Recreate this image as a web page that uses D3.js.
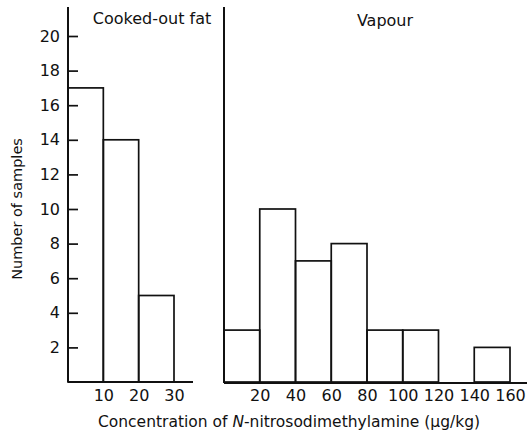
<!DOCTYPE html>
<html>
<head>
<meta charset="utf-8">
<script src="https://cdn.jsdelivr.net/npm/d3@7/dist/d3.min.js"></script>
<style>
  html, body { margin: 0; padding: 0; background: #fff; }
  svg { display: block; }
  text { font-family: "DejaVu Sans", sans-serif; fill: #111; }
</style>
</head>
<body>
<svg id="chart" width="527" height="436"></svg>
<script>
// Histogram bins: [lower, upper] concentration (µg/kg) and sample counts
const fatBins = [[0, 10], [10, 20], [20, 30]];
const fatCounts = [17, 14, 5];
const vapourBins = [[0, 20], [20, 40], [40, 60], [60, 80], [80, 100], [100, 120], [120, 140], [140, 160]];
const vapourCounts = [3, 10, 7, 8, 3, 3, 0, 2];
const yTicks = [2, 4, 6, 8, 10, 12, 14, 16, 18, 20];
const fatTicks = [10, 20, 30];
const vapourTicks = [20, 40, 60, 80, 100, 120, 140, 160];
const panelTitles = ["Cooked-out fat", "Vapour"];

const svg = d3.select("#chart");
const ink = "#111";

const y = d3.scaleLinear().domain([0, 20]).range([382, 36]);
const xFat = d3.scaleLinear().domain([0, 30]).range([68, 174]);
const xVap = d3.scaleLinear().domain([0, 160]).range([224, 510]);
const axisTop = 7;

// Frame lines: left axis, divider / vapour axis, two baselines
const frame = svg.append("g").attr("stroke", ink).attr("stroke-width", 2).attr("fill", "none");
frame.append("line").attr("x1", xFat(0)).attr("x2", xFat(0)).attr("y1", axisTop).attr("y2", y(0));
frame.append("line").attr("x1", xFat(0)).attr("x2", 193).attr("y1", y(0)).attr("y2", y(0));
frame.append("line").attr("x1", xVap(0)).attr("x2", xVap(0)).attr("y1", axisTop).attr("y2", y(0) + 1);
frame.append("line").attr("x1", xVap(0)).attr("x2", 527).attr("y1", y(0) + 1).attr("y2", y(0) + 1);

// Bars
function drawBars(bins, counts, x) {
  svg.append("g")
    .selectAll("rect")
    .data(bins.map((b, i) => ({ b, c: counts[i] })).filter(d => d.c > 0))
    .join("rect")
    .attr("x", d => x(d.b[0]))
    .attr("width", d => x(d.b[1]) - x(d.b[0]))
    .attr("y", d => y(d.c))
    .attr("height", d => y(0) - y(d.c))
    .attr("fill", "none")
    .attr("stroke", ink)
    .attr("stroke-width", 1.7);
}
drawBars(fatBins, fatCounts, xFat);
drawBars(vapourBins, vapourCounts, xVap);

// Y axis: inward ticks, labels on the outside
const yAxis = svg.append("g")
  .attr("transform", `translate(${xFat(0)},0)`)
  .call(d3.axisLeft(y).tickValues(yTicks).tickSize(-10).tickPadding(8).tickFormat(d3.format("d")));
yAxis.select(".domain").remove();
yAxis.selectAll(".tick line").attr("stroke", ink).attr("stroke-width", 1.7);
yAxis.selectAll(".tick text").attr("font-size", 16).attr("font-family", "DejaVu Sans, sans-serif").attr("fill", ink);

// X axes: labels only
function xAxis(scale, ticks) {
  const g = svg.append("g")
    .attr("transform", `translate(0,${y(0)})`)
    .call(d3.axisBottom(scale).tickValues(ticks).tickSize(0).tickPadding(8).tickFormat(d3.format("d")));
  g.select(".domain").remove();
  g.selectAll(".tick text").attr("font-size", 16).attr("font-family", "DejaVu Sans, sans-serif").attr("fill", ink);
}
xAxis(xFat, fatTicks);
xAxis(xVap, vapourTicks);

// Panel titles
svg.append("text").attr("x", 152).attr("y", 24).attr("text-anchor", "middle")
  .attr("font-size", 16).text(panelTitles[0]);
svg.append("text").attr("x", 385).attr("y", 26).attr("text-anchor", "middle")
  .attr("font-size", 16).text(panelTitles[1]);

// Axis titles
svg.append("text")
  .attr("transform", "translate(22,209) rotate(-90)")
  .attr("text-anchor", "middle")
  .attr("font-size", 14.5)
  .text("Number of samples");

const xl = svg.append("text")
  .attr("x", 289).attr("y", 427)
  .attr("text-anchor", "middle")
  .attr("font-size", 15.5);
xl.append("tspan").text("Concentration of ");
xl.append("tspan").attr("font-style", "italic").text("N");
xl.append("tspan").text("-nitrosodimethylamine (µg/kg)");
</script>
</body>
</html>
